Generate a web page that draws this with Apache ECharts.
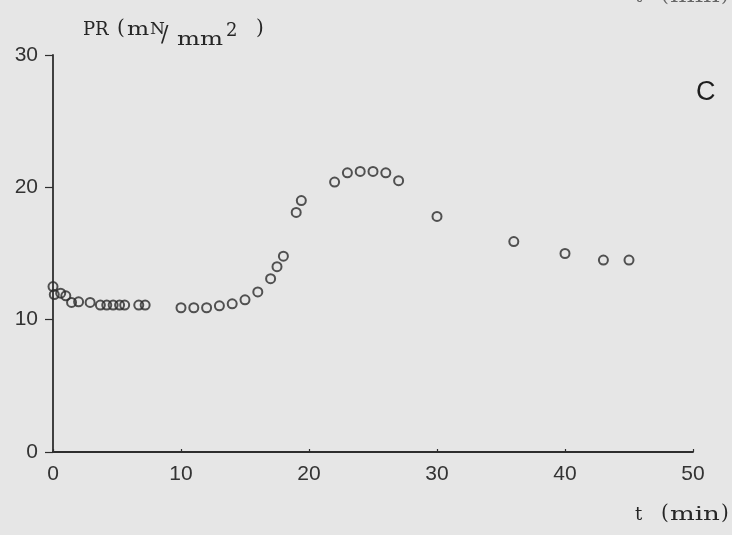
<!DOCTYPE html>
<html>
<head>
<meta charset="utf-8">
<script src="https://cdn.jsdelivr.net/npm/echarts@6/dist/echarts.min.js"></script>
<style>
html,body{margin:0;padding:0;background:#e6e6e6;}
#main{width:732px;height:535px;}
</style>
</head>
<body>
<div id="main"></div>
<script>
// time (min)
var timeMin = [0, 0.1, 0.6, 1.0, 1.45, 2.0, 2.9, 3.7, 4.2, 4.7, 5.2, 5.6, 6.7, 7.2,
  10, 11, 12, 13, 14, 15, 16, 17, 17.5, 18, 19, 19.4,
  22, 23, 24, 25, 26, 27, 30, 36, 40, 43, 45];
// PR (mN/mm2)
var prValues = [12.5, 11.9, 12.0, 11.8, 11.3, 11.35, 11.3, 11.1, 11.1, 11.1, 11.1, 11.1, 11.1, 11.1,
  10.9, 10.9, 10.9, 11.05, 11.2, 11.5, 12.1, 13.1, 14.0, 14.8, 18.1, 19.0,
  20.4, 21.1, 21.2, 21.2, 21.1, 20.5, 17.8, 15.9, 15.0, 14.5, 14.5];
var xTicks = [0, 10, 20, 30, 40, 50];
var yTicks = [0, 10, 20, 30];

var points = timeMin.map(function (t, i) { return [t, prValues[i]]; });

var chart = echarts.init(document.getElementById('main'), null, {renderer: 'canvas'});
var axisColor = '#2e2e2e';
var labelFont = {fontFamily: '"Liberation Sans", Arial, sans-serif', fontSize: 21, color: '#333'};
var serif = '"DejaVu Serif", "Liberation Serif", serif';

function txt(text, left, top, size, sx, fill) {
  return {type: 'text', left: left, top: top, scaleX: sx || 1,
    style: {text: text, font: size + 'px ' + serif, fill: fill || '#262626'}};
}
function tLabel(dy, fill) {
  return [
    txt('t', 635, 506 + dy, 18, 1, fill),
    txt('(', 661, 504 + dy, 20, 1, fill),
    txt('min', 670, 506 + dy, 18, 1.45, fill),
    txt(')', 721, 504 + dy, 20, 1, fill)
  ];
}

var graphics = [
  txt('PR', 83, 21, 18),
  txt('(', 117, 19, 20),
  txt('m', 127, 21, 18, 1.3),
  txt('N', 150, 21, 17),
  txt('/', 161, 24, 22),
  txt('mm', 177, 31, 18, 1.35),
  txt('2', 226, 22, 18),
  txt(')', 256, 19, 20),
  {type: 'text', left: 696, top: 79, style: {text: 'C', font: '27px "Liberation Sans", Arial, sans-serif', fill: '#1e1e1e'}}
].concat(tLabel(0)).concat(tLabel(-518, '#666'));

chart.setOption({
  backgroundColor: '#e6e6e6',
  animation: false,
  grid: {left: 53, right: 39, top: 55, bottom: 83, containLabel: false},
  xAxis: {
    type: 'value', min: xTicks[0], max: xTicks[xTicks.length - 1], interval: 10,
    axisLine: {show: true, onZero: false, lineStyle: {color: axisColor, width: 1.8}},
    axisTick: {show: true, inside: true, length: 3, lineStyle: {color: axisColor, width: 1.2}},
    axisLabel: Object.assign({margin: 12}, labelFont),
    splitLine: {show: false}
  },
  yAxis: {
    type: 'value', min: yTicks[0], max: yTicks[yTicks.length - 1], interval: 10,
    axisLine: {show: true, onZero: false, lineStyle: {color: axisColor, width: 1.8}},
    axisTick: {show: true, inside: false, length: 8, lineStyle: {color: axisColor, width: 1.2}},
    axisLabel: Object.assign({margin: 15}, labelFont),
    splitLine: {show: false}
  },
  graphic: graphics,
  series: [{
    type: 'scatter',
    data: points,
    symbol: 'circle',
    symbolSize: 9,
    itemStyle: {color: 'rgba(0,0,0,0)', borderColor: '#2a2a2a', borderWidth: 2},
    emphasis: {disabled: true}
  }]
});
</script>
</body>
</html>
